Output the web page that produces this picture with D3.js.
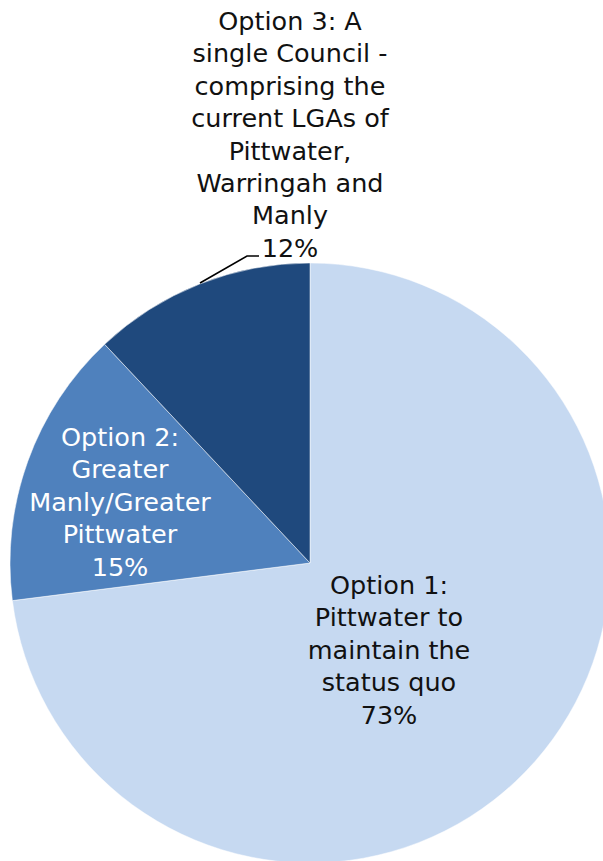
<!DOCTYPE html>
<html><head><meta charset="utf-8">
<script src="https://cdn.jsdelivr.net/npm/d3@7"></script>
<style>
html,body{margin:0;padding:0;background:#fff;}
text{font-family:"Century Gothic","DejaVu Sans",sans-serif;}
</style></head>
<body><svg id="c" width="603" height="861"></svg>
<script>
const categories = ["Option 1: Pittwater to maintain the status quo",
                    "Option 2: Greater Manly/Greater Pittwater",
                    "Option 3: A single Council - comprising the current LGAs of Pittwater, Warringah and Manly"];
const values = [73, 15, 12];
const labelLines = [
  ["Option 1:", "Pittwater to", "maintain the", "status quo"],
  ["Option 2:", "Greater", "Manly/Greater", "Pittwater"],
  ["Option 3: A", "single Council -", "comprising the", "current LGAs of", "Pittwater,", "Warringah and", "Manly"]
];
const colors = ["#C6D9F1", "#4F81BD", "#1F497D"];
const textColors = ["#111111", "#ffffff", "#111111"];

const svg = d3.select("#c");
const cx = 310, cy = 563, R = 300;
const g = svg.append("g").attr("transform", `translate(${cx},${cy})`);
const pie = d3.pie().sort(null).startAngle(0).endAngle(2*Math.PI);
const arcs = pie(values);
const arc = d3.arc().innerRadius(0).outerRadius(R);
g.selectAll("path").data(arcs).join("path")
  .attr("d", arc).attr("fill", (d,i)=>colors[i])
  .attr("stroke", "#fff").attr("stroke-width", 0.5);

// label layout (center x, first baseline y)
const labelPos = [[389, 594], [120, 446], [290, 30]];
const lh = 32.4, fs = 25.5;
arcs.forEach((d,i)=>{
  const lines = labelLines[i].concat([d3.format(".0f")(values[i]) + "%"]);
  const t = svg.append("text").attr("text-anchor","middle")
    .attr("font-size", fs).attr("fill", textColors[i]);
  lines.forEach((l,k)=>{
    t.append("tspan").attr("x", labelPos[i][0]).attr("y", labelPos[i][1] + k*lh).text(l);
  });
});
// leader line for option 3
svg.append("polyline")
  .attr("points", [[200,283],[247,256],[259,256]].map(p=>p.join(",")).join(" "))
  .attr("fill","none").attr("stroke","#000").attr("stroke-width",1.6);
</script></body></html>
